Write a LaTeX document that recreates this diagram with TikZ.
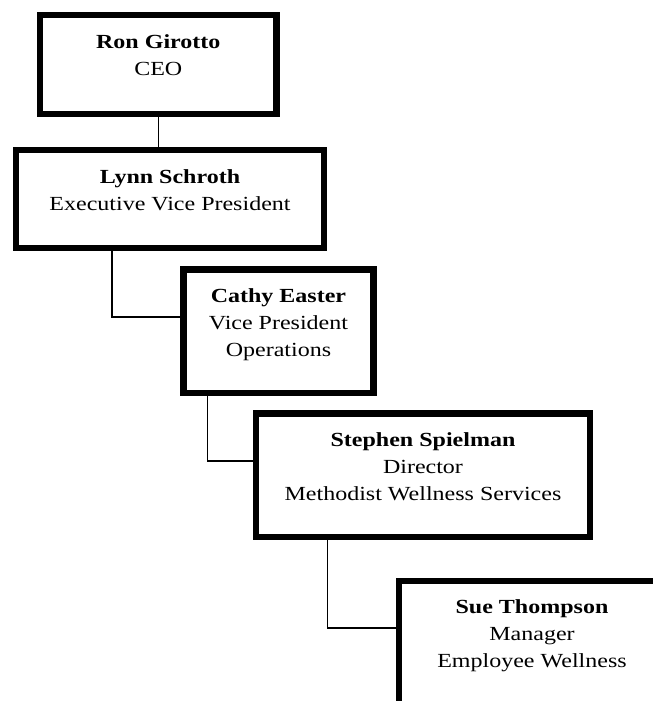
\documentclass[tikz,border=0pt]{standalone}
\usepackage{fontspec}
\setmainfont{Liberation Serif}[FakeStretch=1.2]
\usetikzlibrary{positioning}

\begin{document}
\begin{tikzpicture}[
  box/.style={rectangle, draw, line width=4.6pt, inner sep=0pt, outer sep=0pt,
    anchor=north west, align=center, font=\fontsize{15}{20.25}\selectfont},
  twoline/.style={box, text height=45pt},
  threeline/.style={box, text height=65.25pt},
  link/.style={draw, line width=1.1pt}
]
\useasboundingbox (0,0) rectangle (489.75pt,-525.75pt);
\clip (0,0) rectangle (489.75pt,-525.75pt);

% Chain of command
\node[twoline, minimum width=177.4pt, text depth=29.25pt] (ron) at (30pt,-11.25pt)
  {\textbf{Ron Girotto}\\CEO};
\node[twoline, minimum width=231pt, text depth=28.5pt,
  below right=27pt and -18pt of ron.south west] (lynn)
  {\textbf{Lynn Schroth}\\Executive Vice President};
\node[threeline, minimum width=142.5pt, text depth=27.35pt,
  below right=16.1pt and 125.6pt of lynn.south west] (cathy)
  {\textbf{Cathy Easter}\\Vice President\\Operations};
\node[threeline, minimum width=250.5pt, text depth=27.35pt,
  below right=15.4pt and 54.4pt of cathy.south west] (stephen)
  {\textbf{Stephen Spielman}\\Director\\Methodist Wellness Services};
\node[threeline, minimum width=199.5pt, text depth=27.75pt,
  below right=33pt and 107.25pt of stephen.south west] (sue)
  {\textbf{Sue Thompson}\\Manager\\Employee Wellness};

% Reporting lines
\draw[link] (ron.south) -- (ron.south |- lynn.north);
\draw[link] ([xshift=72pt]lynn.south west) |- ([yshift=-35.6pt]cathy.north west);
\draw[link] ([xshift=17.85pt]cathy.south west) |- ([yshift=-35.6pt]stephen.north west);
\draw[link] ([xshift=53.5pt]stephen.south west) |- ([yshift=-35.3pt]sue.north west);

\end{tikzpicture}
\end{document}
